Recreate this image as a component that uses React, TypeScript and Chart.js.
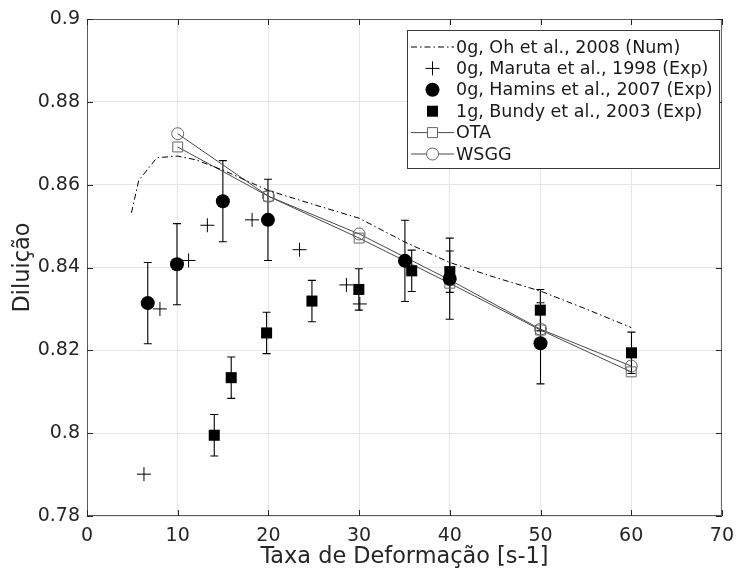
import React, { useEffect, useRef } from 'react';
import { Chart, registerables } from 'chart.js';

Chart.register(...registerables);

// 0g, Oh et al., 2008 (Num) — dash-dot curve
const ohX = [4.9, 5.7, 7.7, 10, 12, 15, 20, 25, 30, 35, 40, 45, 50, 55, 60];
const ohY = [0.8532, 0.861, 0.8665, 0.8669, 0.866, 0.8635, 0.8586, 0.8552, 0.8519, 0.8462, 0.8412, 0.8376, 0.8343, 0.83, 0.8255];

// 0g, Maruta et al., 1998 (Exp)
const marutaX = [6.28, 8.04, 11.2, 13.27, 18.2, 23.43, 28.6, 30.08];
const marutaY = [0.7901, 0.83, 0.8417, 0.8502, 0.8515, 0.8443, 0.8358, 0.8312];

// 0g, Hamins et al., 2007 (Exp)
const haminsX = [6.7, 9.92, 14.98, 19.95, 35.05, 39.99, 50];
const haminsY = [0.8314, 0.8408, 0.856, 0.8515, 0.8416, 0.8373, 0.8217];
const haminsErr = [0.0098, 0.0098, 0.0098, 0.0098, 0.0098, 0.0098, 0.0098];

// 1g, Bundy et al., 2003 (Exp)
const bundyX = [14.03, 15.9, 19.8, 24.8, 29.97, 35.8, 40, 49.98, 60.03];
const bundyY = [0.7995, 0.8134, 0.8242, 0.8319, 0.8347, 0.8392, 0.839, 0.8297, 0.8194];
const bundyErr = [0.005, 0.005, 0.005, 0.005, 0.005, 0.005, 0.005, 0.005, 0.005];

// OTA and WSGG
const modelX = [10, 20, 30, 40, 50, 60];
const otaY = [0.8691, 0.8572, 0.8471, 0.8362, 0.8249, 0.8148];
const wsggY = [0.8723, 0.8572, 0.8481, 0.837, 0.8251, 0.8162];

const xTicks = [0, 10, 20, 30, 40, 50, 60, 70];
const yTicks = [0.78, 0.8, 0.82, 0.84, 0.86, 0.88, 0.9];

const legendLabels = [
  '0g, Oh et al., 2008 (Num)',
  '0g, Maruta et al., 1998 (Exp)',
  '0g, Hamins et al., 2007 (Exp)',
  '1g, Bundy et al., 2003 (Exp)',
  'OTA',
  'WSGG',
];

const AXIS = '#262626';
const MODEL = '#4a4a4a';
const FONT = 'DejaVu Sans';

const pts = (xs: number[], ys: number[]) => xs.map((x, i) => ({ x, y: ys[i] }));

const errorBars = [
  { xs: haminsX, ys: haminsY, err: haminsErr },
  { xs: bundyX, ys: bundyY, err: bundyErr },
];

const framePlugin = {
  id: 'frameAndExtras',
  beforeDatasetsDraw(chart: any) {
    const { ctx, scales } = chart;
    const xs = scales.x;
    const ys = scales.y;
    ctx.save();
    ctx.strokeStyle = '#000';
    ctx.lineWidth = 1.1;
    errorBars.forEach((s) => {
      s.xs.forEach((xv, i) => {
        const px = xs.getPixelForValue(xv);
        const top = ys.getPixelForValue(s.ys[i] + s.err[i]);
        const bot = ys.getPixelForValue(s.ys[i] - s.err[i]);
        ctx.beginPath();
        ctx.moveTo(px, top);
        ctx.lineTo(px, bot);
        ctx.moveTo(px - 4, top);
        ctx.lineTo(px + 4, top);
        ctx.moveTo(px - 4, bot);
        ctx.lineTo(px + 4, bot);
        ctx.stroke();
      });
    });
    ctx.restore();
  },
  afterDatasetsDraw(chart: any) {
    const { ctx, chartArea: a, scales } = chart;
    ctx.save();
    // frame
    ctx.strokeStyle = '#5a5a5a';
    ctx.lineWidth = 1;
    ctx.strokeRect(a.left + 0.5, a.top + 0.5, a.right - a.left - 1, a.bottom - a.top - 1);
    // inward ticks
    ctx.strokeStyle = AXIS;
    ctx.beginPath();
    xTicks.forEach((v) => {
      const px = Math.round(scales.x.getPixelForValue(v)) + 0.5;
      ctx.moveTo(px, a.bottom);
      ctx.lineTo(px, a.bottom - 6);
      ctx.moveTo(px, a.top);
      ctx.lineTo(px, a.top + 6);
    });
    yTicks.forEach((v) => {
      const py = Math.round(scales.y.getPixelForValue(v)) + 0.5;
      ctx.moveTo(a.left, py);
      ctx.lineTo(a.left + 6, py);
      ctx.moveTo(a.right, py);
      ctx.lineTo(a.right - 6, py);
    });
    ctx.stroke();

    // legend
    const lx = 407, ly = 30, lw = 312, lh = 138;
    ctx.fillStyle = '#fff';
    ctx.fillRect(lx, ly, lw, lh);
    ctx.strokeStyle = '#3a3a3a';
    ctx.strokeRect(lx + 0.5, ly + 0.5, lw, lh);
    const sx0 = 411, sx1 = 454, mx = 432.5, tx = 456;
    ctx.font = `17.5px "${FONT}"`;
    ctx.textBaseline = 'middle';
    ctx.textAlign = 'left';
    legendLabels.forEach((lab, i) => {
      const cy = 47 + i * 21.4;
      ctx.save();
      if (i === 0) {
        ctx.strokeStyle = '#000';
        ctx.lineWidth = 1;
        ctx.setLineDash([6, 3, 1.5, 3]);
        ctx.beginPath();
        ctx.moveTo(sx0, cy);
        ctx.lineTo(sx1, cy);
        ctx.stroke();
      } else if (i === 1) {
        ctx.strokeStyle = '#000';
        ctx.lineWidth = 1;
        ctx.beginPath();
        ctx.moveTo(mx - 7, cy);
        ctx.lineTo(mx + 7, cy);
        ctx.moveTo(mx, cy - 7);
        ctx.lineTo(mx, cy + 7);
        ctx.stroke();
      } else if (i === 2) {
        ctx.fillStyle = '#000';
        ctx.beginPath();
        ctx.arc(mx, cy, 7, 0, Math.PI * 2);
        ctx.fill();
      } else if (i === 3) {
        ctx.fillStyle = '#000';
        ctx.fillRect(mx - 5.5, cy - 5.5, 11, 11);
      } else {
        ctx.strokeStyle = MODEL;
        ctx.lineWidth = 1;
        ctx.beginPath();
        ctx.moveTo(sx0, cy);
        ctx.lineTo(sx1, cy);
        ctx.stroke();
        ctx.fillStyle = '#fff';
        ctx.strokeStyle = '#666';
        ctx.beginPath();
        if (i === 4) {
          ctx.rect(mx - 5, cy - 5, 10, 10);
        } else {
          ctx.arc(mx, cy, 6, 0, Math.PI * 2);
        }
        ctx.fill();
        ctx.stroke();
      }
      ctx.restore();
      ctx.fillStyle = '#1a1a1a';
      ctx.fillText(lab, tx, cy + 1);
    });
    ctx.restore();
  },
};

export default function App() {
  const ref = useRef<HTMLCanvasElement | null>(null);

  useEffect(() => {
    if (!ref.current) return;
    Chart.defaults.font.family = FONT;
    const chart = new Chart(ref.current, {
      type: 'scatter',
      data: {
        datasets: [
          {
            label: legendLabels[0],
            data: pts(ohX, ohY),
            showLine: true,
            borderColor: '#000',
            borderWidth: 1,
            borderDash: [6, 3, 1.5, 3],
            pointRadius: 0,
            tension: 0,
          },
          {
            label: legendLabels[1],
            data: pts(marutaX, marutaY),
            pointStyle: 'cross',
            pointRadius: 7,
            borderColor: '#000',
            backgroundColor: '#000',
            pointBorderWidth: 1,
          },
          {
            label: legendLabels[2],
            data: pts(haminsX, haminsY),
            pointStyle: 'circle',
            pointRadius: 7,
            borderColor: '#000',
            backgroundColor: '#000',
            pointBorderWidth: 0,
          },
          {
            label: legendLabels[3],
            data: pts(bundyX, bundyY),
            pointStyle: 'rect',
            pointRadius: 7.8,
            borderColor: '#000',
            backgroundColor: '#000',
            pointBorderWidth: 0,
          },
          {
            label: legendLabels[4],
            data: pts(modelX, otaY),
            showLine: true,
            borderColor: MODEL,
            borderWidth: 1,
            pointStyle: 'rect',
            pointRadius: 7,
            pointBorderColor: '#666',
            pointBackgroundColor: 'rgba(0,0,0,0)',
            pointBorderWidth: 1,
          },
          {
            label: legendLabels[5],
            data: pts(modelX, wsggY),
            showLine: true,
            borderColor: MODEL,
            borderWidth: 1,
            pointStyle: 'circle',
            pointRadius: 6,
            pointBorderColor: '#666',
            pointBackgroundColor: 'rgba(0,0,0,0)',
            pointBorderWidth: 1,
          },
        ],
      },
      options: {
        responsive: false,
        animation: false,
        layout: { padding: { top: 19, right: 13, left: 0, bottom: 0 } },
        plugins: {
          legend: { display: false },
          tooltip: { enabled: false },
        },
        scales: {
          x: {
            type: 'linear',
            min: 0,
            max: 70,
            afterFit: (s: any) => {
              s.height = 55;
            },
            afterBuildTicks: (s: any) => {
              s.ticks = xTicks.map((v) => ({ value: v }));
            },
            ticks: {
              padding: 9,
              color: AXIS,
              font: { size: 19 },
              maxRotation: 0,
              callback: (v: any) => String(v),
            },
            grid: { color: '#e6e6e6', drawTicks: false },
            border: { display: false },
            title: {
              display: true,
              text: 'Taxa de Deformação [s-1]',
              color: AXIS,
              font: { size: 22.4 },
              padding: { top: 0, bottom: 0 },
            },
          },
          y: {
            type: 'linear',
            min: 0.78,
            max: 0.9,
            afterFit: (s: any) => {
              s.width = 87;
            },
            afterBuildTicks: (s: any) => {
              s.ticks = yTicks.map((v) => ({ value: v }));
            },
            ticks: {
              padding: 7,
              color: AXIS,
              font: { size: 19 },
              callback: (v: any) => String(parseFloat(Number(v).toFixed(2))),
            },
            grid: { color: '#e6e6e6', drawTicks: false },
            border: { display: false },
            title: {
              display: true,
              text: 'Diluição',
              color: AXIS,
              font: { size: 22.4 },
              padding: { top: 10, bottom: 0 },
            },
          },
        },
      },
      plugins: [framePlugin],
    });
    return () => chart.destroy();
  }, []);

  return (
    <div style={{ position: 'fixed', left: 0, top: 0, width: 743, height: 571, background: '#fff' }}>
      <canvas ref={ref} width={743} height={571} style={{ display: 'block' }} />
    </div>
  );
}
